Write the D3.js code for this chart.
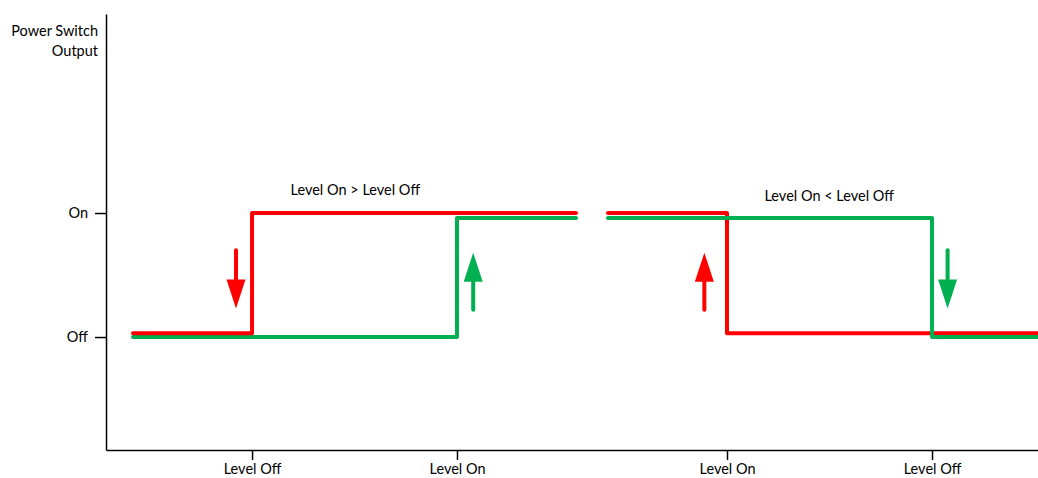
<!DOCTYPE html>
<html>
<head>
<meta charset="utf-8">
<script src="https://cdn.jsdelivr.net/npm/d3@7"></script>
<style>
  html, body { margin: 0; padding: 0; background: #fff; }
  svg text { font-family: Lato, "Open Sans", sans-serif; font-size: 14.5px; fill: #000; }
</style>
</head>
<body>
<svg id="chart" width="1038" height="478"></svg>
<script>
// ---- data ----
const xTickValues = [15.67, 37.66, 66.63, 88.63];
const xTickLabels = ["Level Off", "Level On", "Level On", "Level Off"];
const yTickValues = [0, 1];
const yTickLabels = ["Off", "On"];
const yTitle = ["Power Switch", "Output"];

// Left panel (Level On > Level Off)
const redLeftX = [2.9, 15.67, 50.43];
const redLeftY = [0.03, 1, 1];
const greenLeftX = [2.9, 37.66, 50.43];
const greenLeftY = [0, 0.96, 0.96];
// Right panel (Level On < Level Off)
const redRightX = [53.86, 66.63, 100];
const redRightY = [1, 0.03, 0.03];
const greenRightX = [53.86, 88.63, 100];
const greenRightY = [0.96, 0, 0];

// arrows: x, start value, tip value
const arrowColor = ["red", "green", "red", "green"];
const arrowX = [13.95, 39.4, 64.2, 90.3];
const arrowFrom = [0.70, 0.22, 0.22, 0.70];
const arrowTo = [0.23, 0.68, 0.68, 0.23];

const annotations = ["Level On > Level Off", "Level On < Level Off"];
const annotationX = [26.75, 77.6];
const annotationY = [1.145, 1.097];

// ---- layout ----
const FONT = "Lato, 'Open Sans', sans-serif";
const FS = "14.5px";
const colors = { red: "#FF0000", green: "#00B050" };
const svg = d3.select("#chart");
const x = d3.scaleLinear().domain([0, 100]).range([106, 1038]);
const y = d3.scaleLinear().domain([-0.911, 2.605]).range([450, 14]);

// axes
const xAxis = d3.axisBottom(x).tickValues(xTickValues)
  .tickFormat((d, i) => xTickLabels[i]).tickSizeOuter(0).tickSizeInner(10).tickPadding(4);
const gx = svg.append("g").attr("transform", `translate(0,${y(-0.911)})`).call(xAxis);
const yAxis = d3.axisLeft(y).tickValues(yTickValues)
  .tickFormat((d, i) => yTickLabels[i]).tickSizeOuter(0).tickSizeInner(11).tickPadding(7);
const gy = svg.append("g").attr("transform", `translate(${x(0)},0)`).call(yAxis);
[gx, gy].forEach(g => {
  g.selectAll(".domain").attr("stroke", "#000").attr("stroke-width", 1.5);
  g.selectAll(".tick line").attr("stroke", "#000").attr("stroke-width", 1.5);
  g.selectAll("text").style("font-family", FONT).style("font-size", FS).attr("fill", "#000");
});

// y title
const yt = svg.append("text").attr("text-anchor", "end").attr("x", 98);
yTitle.forEach((t, i) => yt.append("tspan").attr("x", 98).attr("y", 36 + i * 20).text(t));

// step lines
const line = d3.line().x(d => x(d[0])).y(d => y(d[1])).curve(d3.curveStepAfter);
const series = [
  { c: "green", xs: greenLeftX, ys: greenLeftY },
  { c: "red", xs: redLeftX, ys: redLeftY },
  { c: "red", xs: redRightX, ys: redRightY },
  { c: "green", xs: greenRightX, ys: greenRightY }
];
series.forEach(s => {
  svg.append("path")
    .attr("d", line(s.xs.map((v, i) => [v, s.ys[i]])))
    .attr("fill", "none").attr("stroke", colors[s.c])
    .attr("stroke-width", 4).attr("stroke-linejoin", "round").attr("stroke-linecap", "round");
});

// arrows
arrowX.forEach((ax, i) => {
  const px = x(ax), y0 = y(arrowFrom[i]), y1 = y(arrowTo[i]);
  const dir = y1 > y0 ? 1 : -1;
  const headLen = 29, headW = 9.5;
  const col = colors[arrowColor[i]];
  svg.append("line").attr("x1", px).attr("x2", px).attr("y1", y0).attr("y2", y1 - dir * headLen + dir * 2)
    .attr("stroke", col).attr("stroke-width", 4).attr("stroke-linecap", "round");
  svg.append("path")
    .attr("d", `M${px - headW},${y1 - dir * headLen} L${px + headW},${y1 - dir * headLen} L${px},${y1} Z`)
    .attr("fill", col);
});

// annotations
annotations.forEach((t, i) => {
  svg.append("text").attr("x", x(annotationX[i])).attr("y", y(annotationY[i]))
    .attr("text-anchor", "middle").text(t);
});
</script>
</body>
</html>
